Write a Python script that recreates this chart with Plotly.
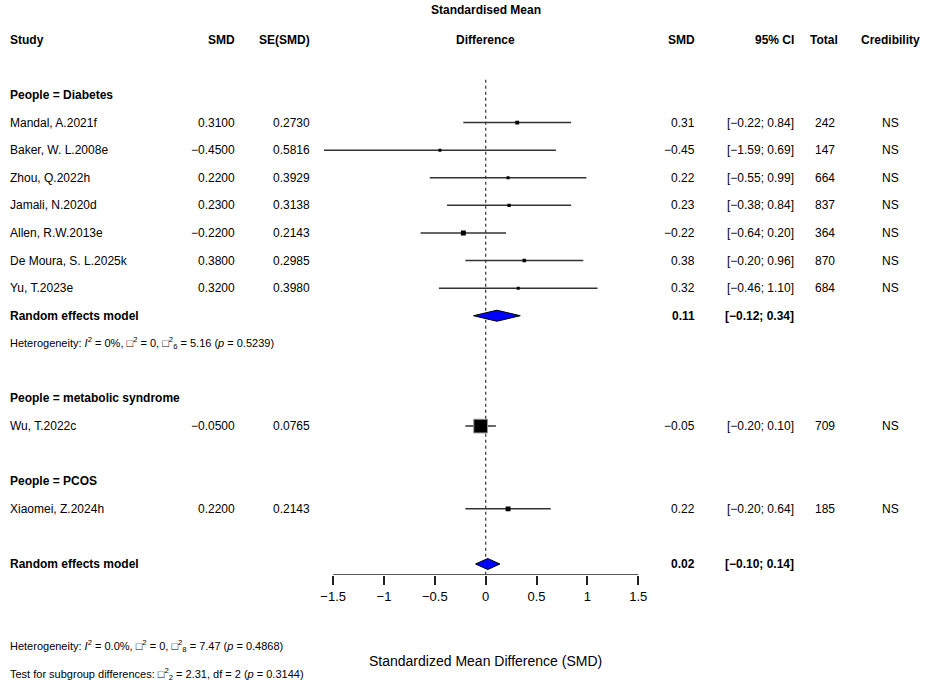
import plotly.graph_objects as go

# Study-level data
studies = ["Mandal, A.2021f", "Baker, W. L.2008e", "Zhou, Q.2022h", "Jamali, N.2020d",
           "Allen, R.W.2013e", "De Moura, S. L.2025k", "Yu, T.2023e",
           "Wu, T.2022c", "Xiaomei, Z.2024h"]
smd = [0.31, -0.45, 0.22, 0.23, -0.22, 0.38, 0.32, -0.05, 0.22]
se = [0.2730, 0.5816, 0.3929, 0.3138, 0.2143, 0.2985, 0.3980, 0.0765, 0.2143]
ci_low = [-0.22, -1.59, -0.55, -0.38, -0.64, -0.20, -0.46, -0.20, -0.20]
ci_high = [0.84, 0.69, 0.99, 0.84, 0.20, 0.96, 1.10, 0.10, 0.64]
total = [242, 147, 664, 837, 364, 870, 684, 709, 185]
credibility = ["NS"] * 9
study_rows = [1, 2, 3, 4, 5, 6, 7, 12, 15]

# Subgroups and pooled estimates
group_labels = ["People = Diabetes", "People = metabolic syndrome", "People = PCOS"]
group_rows = [0, 11, 14]
pooled_labels = ["Random effects model", "Random effects model"]
pooled_est = [0.11, 0.02]
pooled_low = [-0.12, -0.10]
pooled_high = [0.34, 0.14]
pooled_rows = [8, 17]

tick_vals = [-1.5, -1, -0.5, 0, 0.5, 1, 1.5]
tick_text = ["\u22121.5", "\u22121", "\u22120.5", "0", "0.5", "1", "1.5"]

W, H = 935, 688
FONT = "Liberation Sans, Arial, sans-serif"

ROW0_PX, ROW_PX = 95, 27.59   # pixel of row 0 and row spacing
AXIS_PX = 575                  # pixel of the x axis line
axis_row = (AXIS_PX - ROW0_PX) / ROW_PX
top_row = -ROW0_PX / ROW_PX


def fmt(v, d):
    return f"{v:.{d}f}".replace("-", "\u2212")


def px(x):
    return x / W


def py(y):
    return 1 - y / H


fig = go.Figure()

# zero reference line (dotted)
fig.add_trace(go.Scatter(x=[0, 0], y=[-0.55, axis_row], mode="lines",
                         line=dict(color="#333333", width=1.2, dash="dot"),
                         hoverinfo="skip", showlegend=False))

# axis line from -1.5 to 1.5
fig.add_trace(go.Scatter(x=[tick_vals[0], tick_vals[-1]], y=[axis_row, axis_row], mode="lines",
                         line=dict(color="#222222", width=1.5),
                         hoverinfo="skip", showlegend=False))

# confidence interval lines
for lo, hi, r in zip(ci_low, ci_high, study_rows):
    fig.add_trace(go.Scatter(x=[lo, hi], y=[r, r], mode="lines",
                             line=dict(color="#333333", width=1.5),
                             hoverinfo="skip", showlegend=False))

# point estimates, box size by inverse standard error
sizes = [max(1.05 / s, 3) for s in se]
fig.add_trace(go.Scatter(x=smd, y=study_rows, mode="markers",
                         marker=dict(symbol="square", size=sizes, color="black", opacity=1,
                                     line=dict(color="#999999", width=[1 if s > 8 else 0 for s in sizes])),
                         hoverinfo="skip", showlegend=False))

# pooled diamonds
for est, lo, hi, r in zip(pooled_est, pooled_low, pooled_high, pooled_rows):
    h = 0.2
    fig.add_trace(go.Scatter(x=[lo, est, hi, est, lo], y=[r, r - h, r, r + h, r],
                             mode="lines", fill="toself", fillcolor="#0000FF",
                             line=dict(color="black", width=1),
                             hoverinfo="skip", showlegend=False))

ann = []


def add(text, x, row, anchor="left", bold=False, size=12, yref="y"):
    if bold:
        text = f"<b>{text}</b>"
    ann.append(dict(text=text, x=px(x), xref="paper", y=row, yref=yref,
                    xanchor=anchor, yanchor="middle", showarrow=False,
                    font=dict(size=size, color="black", family=FONT)))


# header
add("Standardised Mean", 485.7, -3.08, "center", True)
add("Study", 8, -2, "left", True)
add("SMD", 237, -2, "right", True)
add("SE(SMD)", 312, -2, "right", True)
add("Difference", 485.7, -2, "center", True)
add("SMD", 697, -2, "right", True)
add("95% CI", 796, -2, "right", True)
add("Total", 840, -2, "right", True)
add("Credibility", 890, -2, "center", True)

for g, r in zip(group_labels, group_rows):
    add(g, 8, r, "left", True)

for i, r in enumerate(study_rows):
    add(studies[i], 8, r)
    add(fmt(smd[i], 4), 237, r, "right")
    add(fmt(se[i], 4), 312, r, "right")
    add(fmt(smd[i], 2), 697, r, "right")
    add(f"[{fmt(ci_low[i], 2)}; {fmt(ci_high[i], 2)}]", 796, r, "right")
    add(str(total[i]), 837, r, "right")
    add(credibility[i], 890, r, "center")

for lab, est, lo, hi, r in zip(pooled_labels, pooled_est, pooled_low, pooled_high, pooled_rows):
    add(lab, 8, r, "left", True)
    add(fmt(est, 2), 697, r, "right", True)
    add(f"[{fmt(lo, 2)}; {fmt(hi, 2)}]", 796, r, "right", True)

add("Heterogeneity: <i>I</i><sup>2</sup> = 0%, \u25a1<sup>2</sup> = 0, \u25a1<sup>2</sup><sub>6</sub> = 5.16 (<i>p</i> = 0.5239)",
    8, 9, "left", size=11)

# footer
add("Heterogeneity: <i>I</i><sup>2</sup> = 0.0%, \u25a1<sup>2</sup> = 0, \u25a1<sup>2</sup><sub>8</sub> = 7.47 (<i>p</i> = 0.4868)",
    8, py(646), "left", size=11, yref="paper")
add("Standardized Mean Difference (SMD)", 485.7, py(661), "center", size=14, yref="paper")
add("Test for subgroup differences: \u25a1<sup>2</sup><sub>2</sub> = 2.31, df = 2 (<i>p</i> = 0.3144)",
    8, py(674), "left", size=11, yref="paper")

x_lo, x_hi = -1.65, 1.65
x0_px, unit_px = 485.7, 101.7

fig.update_layout(
    width=W, height=H,
    margin=dict(l=0, r=0, t=0, b=0),
    paper_bgcolor="white", plot_bgcolor="white",
    showlegend=False,
    annotations=ann,
    xaxis=dict(range=[x_lo, x_hi],
               domain=[px(x0_px + x_lo * unit_px), px(x0_px + x_hi * unit_px)],
               tickvals=tick_vals, ticktext=tick_text,
               ticks="outside", ticklen=9, tickwidth=1.5, tickcolor="#222222",
               showline=False, showgrid=False, zeroline=False,
               tickfont=dict(size=13, color="black", family=FONT)),
    yaxis=dict(range=[axis_row, top_row], domain=[py(AXIS_PX), 1],
               visible=False, showgrid=False, zeroline=False),
)

# drop the default page margin so the figure fills the window exactly
fig.write_html("out.html", config={"displayModeBar": False},
               post_script="document.body.style.margin = '0';")
